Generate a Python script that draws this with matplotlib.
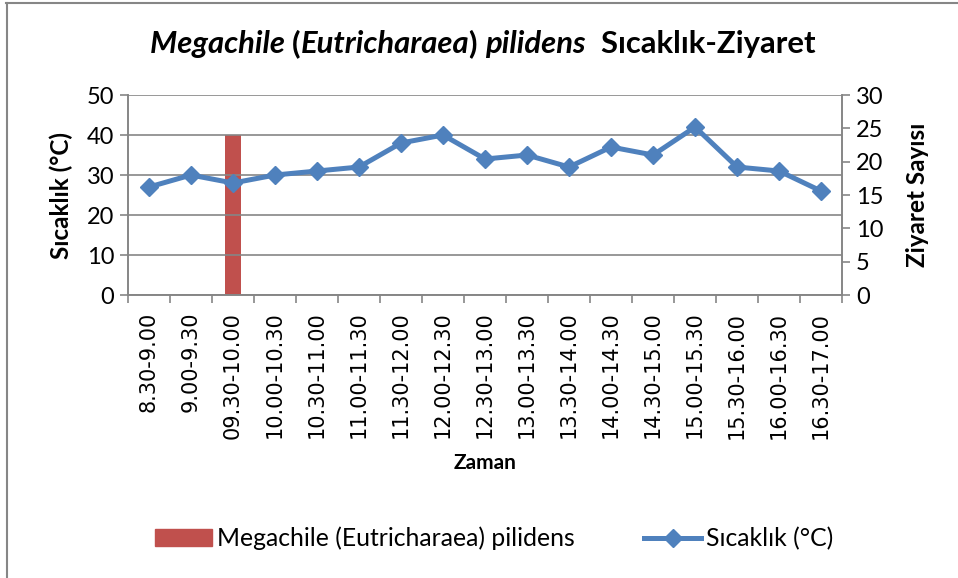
import numpy as np
import matplotlib.pyplot as plt
from matplotlib.lines import Line2D
from matplotlib.patches import Patch

zaman = ["8.30-9.00", "9.00-9.30", "09.30-10.00", "10.00-10.30", "10.30-11.00",
         "11.00-11.30", "11.30-12.00", "12.00-12.30", "12.30-13.00", "13.00-13.30",
         "13.30-14.00", "14.00-14.30", "14.30-15.00", "15.00-15.30", "15.30-16.00",
         "16.00-16.30", "16.30-17.00"]
sicaklik = [27, 30, 28, 30, 31, 32, 38, 40, 34, 35, 32, 37, 35, 42, 32, 31, 26]
ziyaret = [0, 0, 24, 0, 0, 0, 0, 0, 0, 0, 0, 0, 0, 0, 0, 0, 0]

red = "#C0504D"
blue = "#4F81BD"
grey = "#868686"
plt.rcParams['font.family'] = ["Lato", "DejaVu Sans"]

fig = plt.figure(figsize=(9.58, 5.78), dpi=100)
ax = fig.add_axes([0.1336, 0.4896, 0.7454, 0.346])
ax2 = ax.twinx()

x = np.arange(len(zaman))
ax2.bar(x, ziyaret, width=0.4, color=red, zorder=2)
ax.plot(x, sicaklik, color=blue, lw=3.6, marker="D", markersize=9.5, zorder=3)
ax.set_zorder(ax2.get_zorder() + 1)
ax.patch.set_visible(False)

ax.set_xlim(-0.5, len(zaman) - 0.5)
ax.set_ylim(0, 50)
ax2.set_ylim(0, 30)
ax.set_yticks(range(0, 51, 10))
ax2.set_yticks(range(0, 31, 5))
ax.yaxis.grid(True, color=grey, lw=1.2)
ax.set_axisbelow(True)

ax.set_xticks(x)
ax.set_xticklabels(zaman, rotation=90)
ax.set_xticks(np.arange(-0.5, len(zaman)), minor=True)
ax.tick_params(axis="x", which="major", length=0, pad=12, labelsize=15,
               labelfontfamily="DejaVu Sans")
ax.tick_params(axis="x", which="minor", length=6, color=grey, width=1.2)
ax.tick_params(axis="y", length=6, color=grey, width=1.2, labelsize=17, pad=4)
ax2.tick_params(axis="y", length=6, color=grey, width=1.2, labelsize=17, pad=4)

for a in (ax, ax2):
    a.spines["top"].set_visible(False)
    for s in ("left", "right", "bottom"):
        a.spines[s].set_color(grey)
        a.spines[s].set_linewidth(1.2)

ax.set_ylabel("Sıcaklık (°C)", fontsize=17.5, fontweight="bold", labelpad=10)
ax2.set_ylabel("Ziyaret Sayısı", fontsize=17.5, fontweight="bold", labelpad=16)
ax.set_xlabel("Zaman", fontsize=15, fontweight="bold", labelpad=10)

# title in pieces: species name italic, the rest upright
parts = [("Megachile ", "italic"), ("(", "normal"), ("Eutricharaea", "italic"),
         (") ", "normal"), ("pilidens", "italic"), ("  Sıcaklık-Ziyaret", "normal")]
prev = None
for txt, st in parts:
    if prev is None:
        prev = fig.text(0.157, 0.908, txt, fontsize=22.3, fontweight="bold", style=st,
                        va="baseline")
    else:
        prev = ax.annotate(txt, xy=(1, 0), xycoords=prev, fontsize=22.3,
                           fontweight="bold", style=st, va="bottom",
                           annotation_clip=False)

handles = [Patch(color=red),
           Line2D([], [], color=blue, lw=3.6, marker="D", markersize=9.5)]
labels = ["Megachile (Eutricharaea) pilidens", "Sıcaklık (°C)"]
fig.legend(handles, labels, loc="center", bbox_to_anchor=(0.516, 0.068), ncol=2,
           frameon=False, fontsize=17.8, columnspacing=2.8, handlelength=2.3,
           handletextpad=0.2)

fig.add_artist(Line2D([0.006, 1], [0.995, 0.995], color=grey, lw=1.5,
                      transform=fig.transFigure))
fig.add_artist(Line2D([0.007, 0.007], [0, 0.995], color=grey, lw=1.5,
                      transform=fig.transFigure))

fig.savefig("out.png", dpi=100)
